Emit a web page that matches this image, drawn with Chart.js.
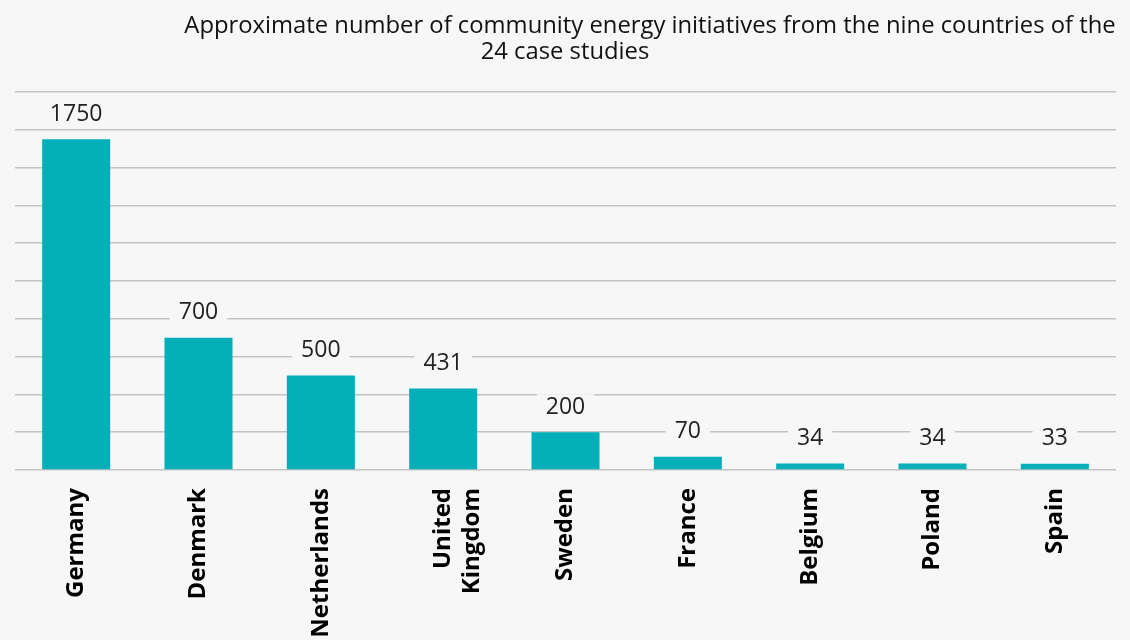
<!DOCTYPE html>
<html><head><meta charset="utf-8">
<script src="https://cdn.jsdelivr.net/npm/chart.js@4.4.0/dist/chart.umd.min.js"></script>
<style>
html,body{margin:0;padding:0;background:#f7f7f7;}
#wrap{width:1130px;height:640px;position:relative;}
</style></head>
<body><div id="wrap"><canvas id="c" width="1130" height="640"></canvas></div>
<script>
const categories = ["Germany","Denmark","Netherlands",["United","Kingdom"],"Sweden","France","Belgium","Poland","Spain"];
const values = [1750,700,500,431,200,70,34,34,33];
const valueLabels = ["1750","700","500","431","200","70","34","34","33"];
const titleLines = ["Approximate number of community energy initiatives from the nine countries of the","24 case studies"];

const BG = '#f7f7f7';
const titlePlugin = {
  id:'titleLines',
  afterDraw(chart){
    const ctx = chart.ctx;
    ctx.save();
    ctx.fillStyle = '#111';
    ctx.font = '23.8px "Open Sans"';
    ctx.textBaseline = 'middle';
    ctx.textAlign = 'center';
    ctx.fillText(titleLines[0], 650, 26);
    ctx.fillText(titleLines[1], 565, 52);
    ctx.restore();
  }
};
const labelPlugin = {
  id:'valLabels',
  afterDatasetsDraw(chart){
    const ctx = chart.ctx;
    const meta = chart.getDatasetMeta(0);
    ctx.save();
    ctx.font = '23px "Open Sans"';
    ctx.textAlign = 'center';
    ctx.textBaseline = 'middle';
    meta.data.forEach((bar,i)=>{
      const txt = valueLabels[i];
      const w = ctx.measureText(txt).width + 18;
      const y = bar.y - 25;
      ctx.fillStyle = BG;
      ctx.fillRect(bar.x - w/2, y - 13, w, 26);
      ctx.fillStyle = '#222';
      ctx.fillText(txt, bar.x, y);
    });
    ctx.restore();
  }
};

new Chart(document.getElementById('c'), {
  type:'bar',
  data:{labels:categories, datasets:[{data:values, backgroundColor:'#00afb8', barPercentage:1, categoryPercentage:0.556}]},
  options:{
    responsive:false, animation:false,
    layout:{padding:{left:15,right:14,top:92,bottom:0}},
    plugins:{legend:{display:false}, tooltip:{enabled:false}},
    scales:{
      x:{
        grid:{display:false},
        border:{display:false},
        ticks:{color:'#000', font:{family:'"Open Sans"', size:24, weight:'bold'}, maxRotation:90, minRotation:90, padding:10},
        afterFit(s){ s.height = 170; }
      },
      y:{
        min:0, max:2000,
        ticks:{display:false, stepSize:200},
        border:{display:false},
        grid:{color:'#c4c4c4', lineWidth:1.5, drawTicks:false}
      }
    }
  },
  plugins:[titlePlugin,labelPlugin]
});
</script></body></html>
